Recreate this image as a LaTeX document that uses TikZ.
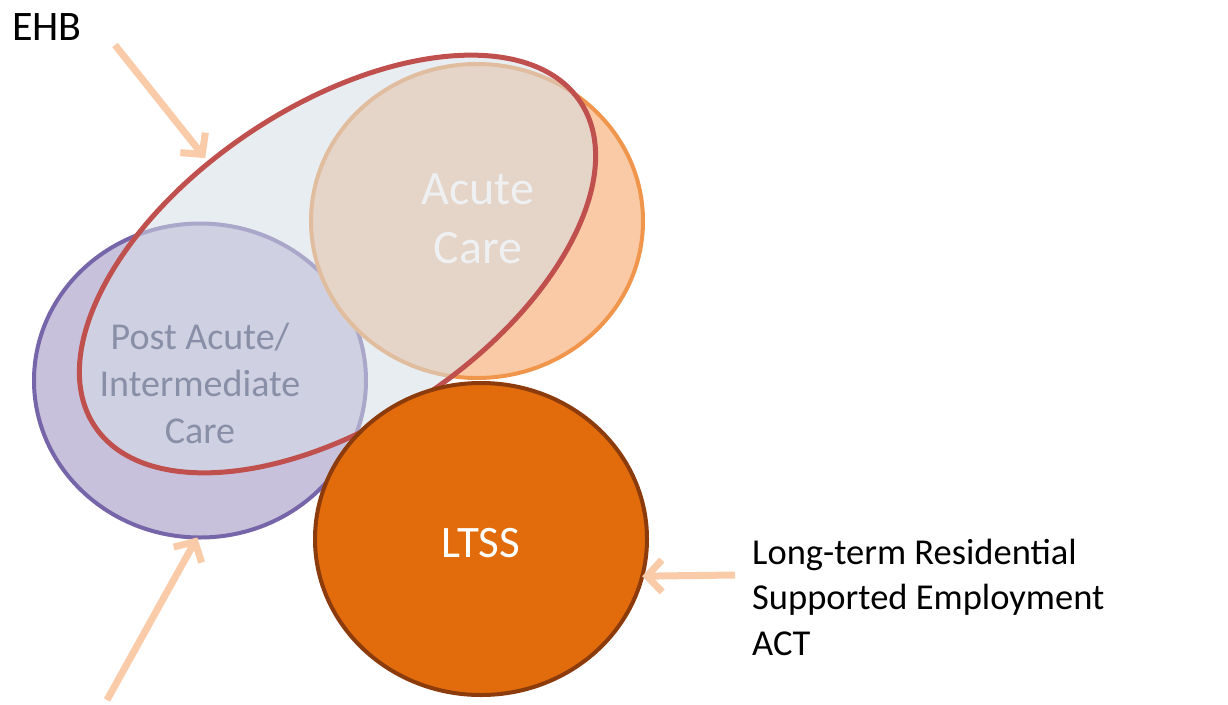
\documentclass[tikz,border=0pt]{standalone}
\usepackage{fontspec}
\setmainfont{Carlito}
\usetikzlibrary{shapes.geometric,arrows.meta}
\definecolor{purplefill}{HTML}{C8C1DC}
\definecolor{purpleline}{HTML}{7665A8}
\definecolor{acutefill}{HTML}{F9CAA5}
\definecolor{acuteline}{HTML}{F0964C}
\definecolor{ltssfill}{HTML}{E26C0B}
\definecolor{ltssline}{HTML}{8C3B0C}
\definecolor{overlay}{HTML}{D6DEE6}
\definecolor{ehbred}{HTML}{C0504D}
\definecolor{arrowc}{HTML}{F9CBA9}
\definecolor{greytext}{HTML}{8A8FA8}
\definecolor{acutetext}{HTML}{EEF0F2}
\begin{document}
\begin{tikzpicture}[x=1pt,y=-1pt,
  circ/.style={ellipse, inner sep=0pt, outer sep=0pt, line width=4pt, minimum width=332pt, minimum height=314pt},
  feed/.style={draw=arrowc, line width=7pt, -{Straight Barb[length=15pt,width=32pt]}},
  lbl/.style={inner sep=0pt, align=center}]
\useasboundingbox (0,0) rectangle (1228,704);
% circles
\node[circ, draw=purpleline, fill=purplefill] (post) at (200,380.5) {};
\node[circ, draw=acuteline, fill=acutefill] (acute) at (477,221) {};
% EHB overlay ellipse
\node[ellipse, inner sep=0pt, outer sep=0pt, rotate=33.8, minimum width=584pt, minimum height=316pt,
      fill=overlay, fill opacity=0.55, draw=ehbred, draw opacity=1, line width=5pt] (ehb) at (337.5,264) {};
% LTSS
\node[circ, draw=ltssline, fill=ltssfill, minimum height=312pt] (ltss) at (481,539) {};
% texts
\node[lbl, text=greytext, font=\fontsize{38}{47}\selectfont] (posttxt) at (200,383) {Post Acute/\\Intermediate\\Care};
\node[lbl, text=acutetext, font=\fontsize{48}{59}\selectfont] (acutetxt) at (478,219) {Acute\\Care};
\node[lbl, text=white, font=\fontsize{45}{52}\selectfont] (ltsstxt) at (481,543) {LTSS};
\node[inner sep=0pt, anchor=west, font=\fontsize{42}{50}\selectfont] (ehbtxt) at (12,27) {EHB};
\node[inner sep=0pt, anchor=west, align=left, font=\fontsize{36.5}{45.5}\selectfont] (list) at (752,597) {Long-term Residential\\Supported Employment\\ACT};
% arrows
\coordinate (ehbtail) at (115,45);
\coordinate (posttail) at (107,700);
\coordinate (listtail) at (735,575);
\draw[feed, shorten >=6pt] (ehbtail) -- (ehb.108);
\draw[feed] (posttail) -- (post.269);
\draw[feed] (listtail) -- (ltss.-13);
\end{tikzpicture}
\end{document}
